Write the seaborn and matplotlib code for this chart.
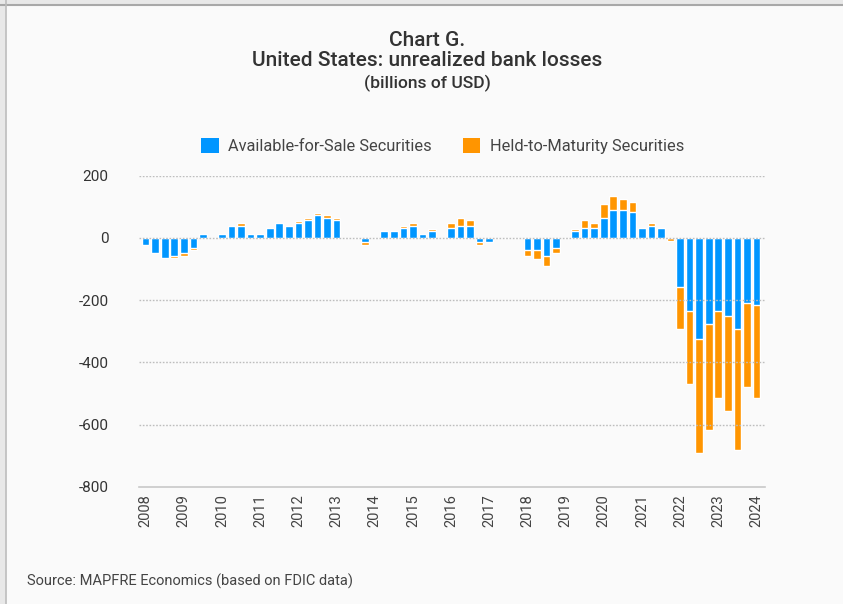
import numpy as np
import pandas as pd
import matplotlib
matplotlib.use("Agg")
import matplotlib.pyplot as plt
from matplotlib.patches import Patch
import seaborn as sns

# Quarterly unrealized gains (+) / losses (-) of US banks, billions of USD, 2008Q1-2024Q1
years = list(range(2008, 2025))
quarters = [f"{y}Q{q}" for y in range(2008, 2025) for q in range(1, 5)][:65]

afs = [-23, -48, -64, -58, -47, -32, 12, 0,
       12, 38, 38, 12, 12, 31, 47, 38,
       47, 57, 73, 63, 57, 0, 0, -13,
       0, 22, 22, 31, 38, 12, 22, 0,
       31, 38, 38, -13, -13, 0, 0, 0,
       -39, -39, -58, -32, 0, 22, 31, 31,
       63, 89, 89, 83, 31, 38, 31, 0,
       -158, -234, -326, -276, -234, -250, -291, -209,
       -215]

htm = [0, 0, 0, -6, -11, -6, 0, 0,
       0, 0, 10, 0, 0, 0, 0, 0,
       6, 6, 6, 10, 6, 0, 0, -10,
       0, 0, 0, 6, 10, 0, 6, 0,
       16, 26, 19, -10, 0, 0, 0, 0,
       -19, -29, -32, -16, 0, 6, 26, 16,
       45, 45, 35, 32, 0, 10, 0, -10,
       -134, -235, -365, -340, -280, -305, -391, -270,
       -299]

series_names = ["Available-for-Sale Securities", "Held-to-Maturity Securities"]
yticks = [200, 0, -200, -400, -600, -800]

BLUE = "#0096FF"
ORANGE = "#FF9500"
BG = "#FAFAFA"
TXT = "#333333"

sns.set_theme(style="white")
plt.rcParams["font.family"] = ["Roboto", "DejaVu Sans"]

df = pd.DataFrame({"quarter": quarters, "afs": afs, "htm": htm})
df["total"] = df["afs"] + df["htm"]

W, H = 843, 604
fig = plt.figure(figsize=(W / 100, H / 100), dpi=100, facecolor=BG)

# axes box in pixel coordinates
x0, x1 = 139, 765
ytop, ybot = 175.7, 487
ax = fig.add_axes([x0 / W, 1 - ybot / H, (x1 - x0) / W, (ybot - ytop) / H])
ax.set_facecolor(BG)

# stacked bars: total (HTM share shows beyond the AFS part), AFS overlaid
sns.barplot(data=df, x="quarter", y="total", color=ORANGE, saturation=1,
            width=0.8, ax=ax, zorder=2, order=quarters)
sns.barplot(data=df, x="quarter", y="afs", color=BLUE, saturation=1,
            width=0.8, ax=ax, zorder=3, order=quarters)

ax.set_ylim(-800, 200)
ax.set_xlim(-0.7, 64.9)
ax.set_yticks(yticks)
ax.set_yticklabels([str(v) for v in yticks])
ax.set_xticks([4 * i for i in range(len(years))])
ax.set_xticklabels([str(y) for y in years], rotation=90)
ax.set_xlabel("")
ax.set_ylabel("")

for v in yticks[:-1]:
    ax.axhline(v, color="#BDBDBD", lw=1.0, ls=(0, (1.2, 1.2)), zorder=4)

for s in ["top", "right", "left"]:
    ax.spines[s].set_visible(False)
ax.spines["bottom"].set_color("#C8C8C8")
ax.spines["bottom"].set_linewidth(1.2)

ax.tick_params(axis="y", length=0, pad=22, labelsize=11, labelcolor=TXT)
ax.tick_params(axis="x", length=0, pad=5, labelsize=10.5, labelcolor="#444444")

# titles
fig.text(427 / W, 1 - 40 / H, "Chart G.", ha="center", va="center",
         fontsize=15, fontweight="medium", color=TXT)
fig.text(427 / W, 1 - 61 / H, "United States: unrealized bank losses",
         ha="center", va="center", fontsize=15, fontweight="medium", color=TXT)
fig.text(427 / W, 1 - 83 / H, "(billions of USD)", ha="center", va="center",
         fontsize=12.6, fontweight="medium", color=TXT)

# legend
handles = [Patch(facecolor=BLUE, edgecolor="none"),
           Patch(facecolor=ORANGE, edgecolor="none")]
fig.legend(handles, series_names, loc="center", bbox_to_anchor=(443 / W, 1 - 146 / H),
           ncol=2, frameon=False, fontsize=11.8, handlelength=1.05, handleheight=1.05,
           handletextpad=0.6, columnspacing=1.9, labelcolor="#444444")

fig.text(27 / W, 1 - 581 / H, "Source: MAPFRE Economics (based on FDIC data)",
         ha="left", va="center", fontsize=10.5, color="#444444")

# frame lines at top and left edges
fig.patches.append(plt.Rectangle((0, 1 - 4 / H), 1, 4 / H, color="#E8E8E8",
                                 transform=fig.transFigure, zorder=0))
fig.patches.append(plt.Rectangle((0, 0), 5 / W, 1, color="#E8E8E8",
                                 transform=fig.transFigure, zorder=0))
fig.add_artist(plt.Line2D([0, 1], [1 - 4.5 / H] * 2, color="#A8A8A8", lw=1.5,
                          transform=fig.transFigure))
fig.add_artist(plt.Line2D([5.5 / W] * 2, [0, 1], color="#BDBDBD", lw=1.2,
                          transform=fig.transFigure))

fig.savefig("out.png", dpi=100, facecolor=BG)
